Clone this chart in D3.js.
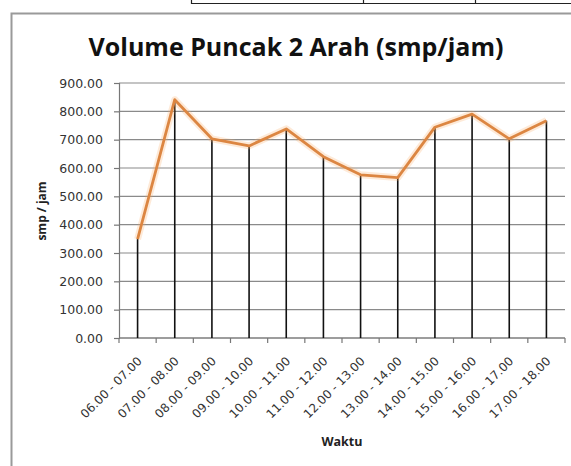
<!DOCTYPE html>
<html>
<head>
<meta charset="utf-8">
<script src="https://cdn.jsdelivr.net/npm/d3@7"></script>
<style>
  body { margin: 0; background: #fff; }
  svg { display: block; }
</style>
</head>
<body>
<svg id="grafico" width="571" height="466"></svg>
<script>
// dados
const waktu = ["06.00 - 07.00", "07.00 - 08.00", "08.00 - 09.00", "09.00 - 10.00",
  "10.00 - 11.00", "11.00 - 12.00", "12.00 - 13.00", "13.00 - 14.00",
  "14.00 - 15.00", "15.00 - 16.00", "16.00 - 17.00", "17.00 - 18.00"];
const volume = [349, 841, 703, 678, 738, 640, 576, 566, 744, 790, 703, 767];
const yTicks = [0, 100, 200, 300, 400, 500, 600, 700, 800, 900];

const judul = "Volume Puncak 2 Arah (smp/jam)";
const judulY = "smp / jam";
const judulX = "Waktu";

const width = 571, height = 466;
const margin = {top: 83, right: 6, bottom: 128, left: 119};
const gW = width - margin.left - margin.right;
const gH = height - margin.top - margin.bottom;

const svg = d3.select("#grafico");

// fundo: linha da tabela acima do gráfico
const tabela = svg.append("g").attr("stroke", "#222").attr("stroke-width", 1.2);
tabela.append("line").attr("x1", 191).attr("x2", 571).attr("y1", 3.5).attr("y2", 3.5);
[191, 363, 475].forEach(function(x) {
  tabela.append("line").attr("x1", x + 0.5).attr("x2", x + 0.5).attr("y1", 0).attr("y2", 4);
});

// moldura do gráfico
svg.append("path")
  .attr("d", "M11.5,466 L11.5,13.5 L571,13.5")
  .attr("fill", "none")
  .attr("stroke", "#9a9a9a")
  .attr("stroke-width", 2);

// título
svg.append("text")
  .attr("x", 296).attr("y", 56)
  .attr("text-anchor", "middle")
  .style("font-family", "'Open Sans', sans-serif")
  .style("font-weight", "bold")
  .style("font-size", "25px")
  .attr("fill", "#111")
  .text(judul);

const g = svg.append("g").attr("transform", "translate(" + margin.left + "," + margin.top + ")");

const x = d3.scaleBand().domain(waktu).range([0, gW]);
const y = d3.scaleLinear().domain([0, 900]).range([gH, 0]);

// grade horizontal
g.append("g")
  .selectAll("line")
  .data(yTicks)
  .enter()
  .append("line")
  .attr("x1", 0).attr("x2", gW)
  .attr("y1", d => y(d)).attr("y2", d => y(d))
  .attr("stroke", "#8a8a8a")
  .attr("stroke-width", 1.2);

// eixo Y
const yAxis = d3.axisLeft(y).tickValues(yTicks).tickSize(5).tickPadding(11)
  .tickFormat(d => d.toFixed(2));
const gy = g.append("g").call(yAxis);
gy.select(".domain").attr("stroke", "#777").attr("stroke-width", 1.2);
gy.selectAll(".tick line").attr("stroke", "#777").attr("stroke-width", 1.2);
gy.selectAll("text")
  .style("font-family", "'DejaVu Sans', sans-serif")
  .style("font-size", "12.5px")
  .attr("fill", "#333");

// eixo X (marcas entre categorias)
const limites = waktu.map(d => x(d)).concat([gW]);
const gx = g.append("g").attr("transform", "translate(0," + gH + ")");
gx.append("line").attr("x1", 0).attr("x2", gW).attr("stroke", "#777").attr("stroke-width", 1.2);
gx.selectAll(".marca")
  .data(limites)
  .enter()
  .append("line")
  .attr("x1", d => d).attr("x2", d => d)
  .attr("y1", 0).attr("y2", 5)
  .attr("stroke", "#777").attr("stroke-width", 1.2);

gx.selectAll(".rotulo")
  .data(waktu)
  .enter()
  .append("text")
  .attr("transform", d => "translate(" + (x(d) + x.bandwidth() / 2 + 2) + ",21) rotate(-45)")
  .attr("text-anchor", "end")
  .attr("dy", "0.35em")
  .style("font-family", "'DejaVu Sans', sans-serif")
  .style("font-size", "12px")
  .attr("fill", "#333")
  .text(d => d);

// linhas verticais (drop lines)
const cx = d => x(d) + x.bandwidth() / 2;
g.append("g")
  .selectAll("line")
  .data(waktu)
  .enter()
  .append("line")
  .attr("x1", cx).attr("x2", cx)
  .attr("y1", (d, i) => y(volume[i])).attr("y2", gH)
  .attr("stroke", "#111")
  .attr("stroke-width", 1.6);

// linha da série
const linha = d3.line()
  .x((d, i) => cx(waktu[i]))
  .y(d => y(d));

g.append("path")
  .attr("d", linha(volume))
  .attr("fill", "none")
  .attr("stroke", "rgba(250,170,100,0.25)")
  .attr("stroke-width", 7)
  .attr("stroke-linejoin", "round");

g.append("path")
  .attr("d", linha(volume))
  .attr("fill", "none")
  .attr("stroke", "#dc8642")
  .attr("stroke-width", 2.8)
  .attr("stroke-linejoin", "round");

// títulos dos eixos
svg.append("text")
  .attr("transform", "translate(46,211) rotate(-90)")
  .attr("text-anchor", "middle")
  .style("font-family", "'Open Sans', sans-serif")
  .style("font-weight", "bold")
  .style("font-size", "12px")
  .attr("fill", "#222")
  .text(judulY);

svg.append("text")
  .attr("x", 342).attr("y", 446)
  .attr("text-anchor", "middle")
  .style("font-family", "'Open Sans', sans-serif")
  .style("font-weight", "bold")
  .style("font-size", "12.5px")
  .attr("fill", "#222")
  .text(judulX);
</script>
</body>
</html>
